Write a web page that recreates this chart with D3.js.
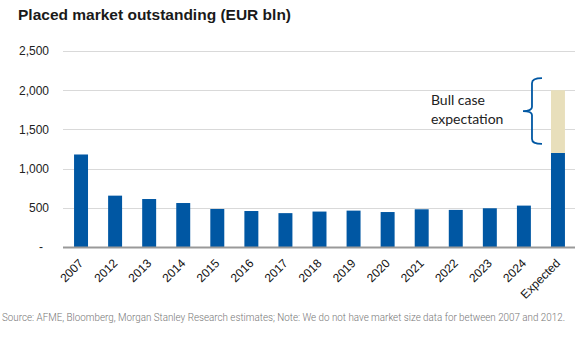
<!DOCTYPE html>
<html>
<head>
<meta charset="utf-8">
<script src="https://cdn.jsdelivr.net/npm/d3@7"></script>
<style>
  body { margin: 0; background: #fff; }
  svg { display: block; }
</style>
</head>
<body>
<svg></svg>
<script>
var svgWidth = 581,
    svgHeight = 347;

// data
var categories = ["2007", "2012", "2013", "2014", "2015", "2016", "2017", "2018",
                  "2019", "2020", "2021", "2022", "2023", "2024", "Expected"];
var placed = [1180, 655, 612, 561, 485, 459, 432, 452, 464, 446, 481, 473, 494, 528, 1200];
var bullCase = [0, 0, 0, 0, 0, 0, 0, 0, 0, 0, 0, 0, 0, 0, 800];
var yTicks = [0, 500, 1000, 1500, 2000, 2500];

var margin = {top: 51, right: 6, bottom: 100, left: 64};
var plotW = svgWidth - margin.left - margin.right,
    plotH = svgHeight - margin.top - margin.bottom;

var svg = d3.select("svg")
    .attr("width", svgWidth)
    .attr("height", svgHeight)
    .style("font-family", "'Liberation Sans', Arial, sans-serif");

svg.append("text")
    .attr("x", 18)
    .attr("y", 20)
    .attr("font-size", 15.5)
    .attr("font-weight", "bold")
    .attr("fill", "#1a1a1a")
    .text("Placed market outstanding (EUR bln)");

var g = svg.append("g")
    .attr("transform", "translate(" + margin.left + "," + margin.top + ")");

var x = d3.scaleBand()
    .domain(categories)
    .range([0, plotW])
    .paddingInner(0.59)
    .paddingOuter(0.295);

var y = d3.scaleLinear()
    .domain([0, 2500])
    .range([plotH, 0]);

// gridlines
g.append("g")
    .selectAll("line")
    .data(yTicks.filter(function (d) { return d > 0; }))
    .enter()
    .append("line")
    .attr("x1", -1)
    .attr("x2", plotW)
    .attr("y1", function (d) { return Math.round(y(d)) + 0.5; })
    .attr("y2", function (d) { return Math.round(y(d)) + 0.5; })
    .attr("stroke", "#d9d9d9")
    .attr("stroke-width", 1);

// y labels
var yAxis = d3.axisLeft(y)
    .tickValues(yTicks)
    .tickSize(0)
    .tickPadding(15)
    .tickFormat(function (d) { return d === 0 ? "-" : d3.format(",")(d); });

var ya = g.append("g").call(yAxis);
ya.select(".domain").remove();
ya.selectAll("text")
    .attr("font-size", 12)
    .attr("fill", "#222")
    .attr("font-family", "'Liberation Sans', Arial, sans-serif");
ya.selectAll("text")
    .filter(function (d) { return d === 0; })
    .attr("dx", -6);

// bars
var rows = categories.map(function (c, i) {
    return {cat: c, base: placed[i], bull: bullCase[i]};
});

g.append("g")
    .selectAll("rect")
    .data(rows)
    .enter()
    .append("rect")
    .attr("x", function (d) { return x(d.cat); })
    .attr("width", x.bandwidth())
    .attr("y", function (d) { return y(d.base); })
    .attr("height", function (d) { return y(0) - y(d.base); })
    .attr("fill", "#0057a3");

g.append("g")
    .selectAll("rect")
    .data(rows.filter(function (d) { return d.bull > 0; }))
    .enter()
    .append("rect")
    .attr("x", function (d) { return x(d.cat); })
    .attr("width", x.bandwidth())
    .attr("y", function (d) { return y(d.base + d.bull); })
    .attr("height", function (d) { return y(d.base) - y(d.base + d.bull); })
    .attr("fill", "#e8dfbb");

// baseline
g.append("line")
    .attr("x1", -1)
    .attr("x2", plotW)
    .attr("y1", y(0) + 0.5)
    .attr("y2", y(0) + 0.5)
    .attr("stroke", "#999")
    .attr("stroke-width", 2);

// x labels
var xAxis = d3.axisBottom(x).tickSize(0).tickPadding(0);
var xa = g.append("g")
    .attr("transform", "translate(0," + plotH + ")")
    .call(xAxis);
xa.select(".domain").remove();
xa.selectAll("text")
    .attr("font-size", 12)
    .attr("fill", "#111")
    .attr("font-family", "'Liberation Sans', Arial, sans-serif")
    .attr("text-anchor", "end")
    .attr("dy", "0")
    .attr("transform", "translate(3,17) rotate(-45)");

// bull case brace
var last = rows[rows.length - 1];
var bx = x(last.cat) - 19,
    braceTop = y(last.base + last.bull) - 12,
    braceBot = y(last.base) - 9,
    braceMid = (braceTop + braceBot) / 2;
var brace = d3.path();
brace.moveTo(bx + 10, braceTop);
brace.quadraticCurveTo(bx, braceTop, bx, braceTop + 5);
brace.lineTo(bx, braceMid - 4);
brace.quadraticCurveTo(bx, braceMid, bx - 9, braceMid);
brace.quadraticCurveTo(bx, braceMid, bx, braceMid + 4);
brace.lineTo(bx, braceBot - 5);
brace.quadraticCurveTo(bx, braceBot, bx + 10, braceBot);
g.append("path")
    .attr("d", brace.toString())
    .attr("fill", "none")
    .attr("stroke", "#0057a3")
    .attr("stroke-width", 1.8);

var note = g.append("text")
    .attr("x", bx - 101)
    .attr("y", braceMid - 6)
    .attr("font-family", "Lato, 'Open Sans', sans-serif")
    .attr("font-size", 14)
    .attr("fill", "#222");
note.append("tspan").text("Bull case");
note.append("tspan").attr("x", bx - 101).attr("dy", 19).text("expectation");

// footnote
svg.append("text")
    .attr("x", 2)
    .attr("y", 321)
    .attr("font-family", "Roboto, sans-serif")
    .attr("font-weight", 300)
    .attr("font-size", 10)
    .attr("textLength", 563)
    .attr("lengthAdjust", "spacingAndGlyphs")
    .attr("fill", "#777")
    .text("Source: AFME, Bloomberg, Morgan Stanley Research estimates; Note: We do not have market size data for between 2007 and 2012.");
</script>
</body>
</html>
